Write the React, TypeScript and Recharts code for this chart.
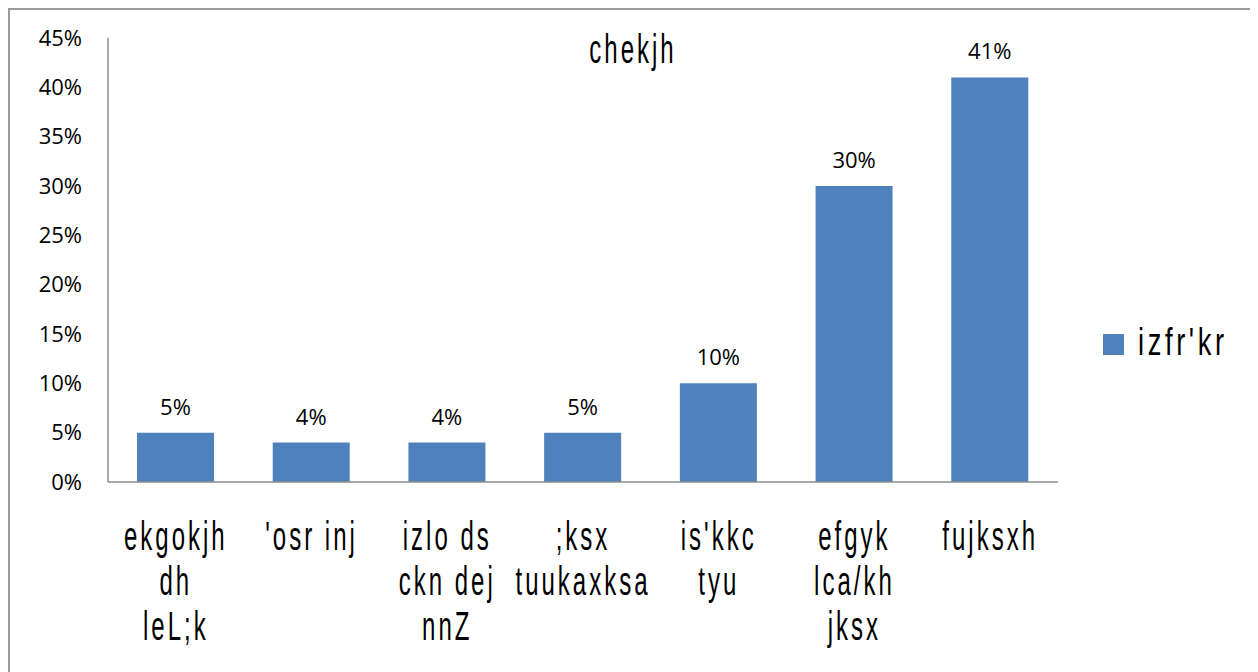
import React from "react";
import { BarChart, Bar, XAxis, YAxis, LabelList, Legend } from "recharts";

const categories = [
  "ekgokjh dh leL;k",
  "'osr inj",
  "izlo ds ckn dej nnZ",
  ";ksx tuukaxksa",
  "is'kkc tyu",
  "efgyk lca/kh jksx",
  "fujksxh",
];
const categoryLines = [
  ["ekgokjh", "dh", "leL;k"],
  ["'osr inj"],
  ["izlo ds", "ckn dej", "nnZ"],
  [";ksx", "tuukaxksa"],
  ["is'kkc", "tyu"],
  ["efgyk", "lca/kh", "jksx"],
  ["fujksxh"],
];
const values = [5, 4, 4, 5, 10, 30, 41];
const yTicks = [0, 5, 10, 15, 20, 25, 30, 35, 40, 45];
const seriesName = "izfr'kr";
const title = "chekjh";

const data = categories.map((c, i) => ({ name: c, value: values[i] }));

const NARROW = "'Liberation Sans', Arial, sans-serif";
const NUMFONT = "'Open Sans', sans-serif";
const BAR = "#4F81BD";
const AXIS = "#8c8c8c";

function XTick(props: any) {
  const { x, y, payload } = props;
  const lines = categoryLines[payload.index] || [String(payload.value)];
  return (
    <g transform={`translate(${x},${y})`}>
      {lines.map((l: string, i: number) => (
        <text
          key={i}
          transform={`translate(0,${68 + 45 * i}) scale(0.6,1)`}
          textAnchor="middle"
          fontFamily={NARROW}
          fontSize={40}
          letterSpacing={5}
          fill="#000"
        >
          {l}
        </text>
      ))}
    </g>
  );
}

function LegendContent() {
  return (
    <svg width={150} height={60} style={{ display: "block", overflow: "visible" }}>
      <rect x={0} y={14} width={21} height={21} fill={BAR} />
      <text
        transform="translate(35,35) scale(0.72,1)"
        fontFamily={NARROW}
        fontSize={38}
        letterSpacing={5}
        fill="#000"
      >
        {seriesName}
      </text>
    </svg>
  );
}

export default function App() {
  return (
    <div
      style={{
        position: "relative",
        width: 1246,
        height: 700,
        border: "2px solid #9a9a9a",
        background: "#fff",
      }}
    >
      <BarChart
        width={1246}
        height={660}
        data={data}
        margin={{ top: 28, right: 198, bottom: 8, left: 0 }}
      >
        <XAxis
          dataKey="name"
          interval={0}
          tickLine={false}
          tickSize={0}
          tickMargin={0}
          height={180}
          axisLine={{ stroke: AXIS, strokeWidth: 1.5 }}
          tick={<XTick />}
        />
        <YAxis
          width={98}
          domain={[0, 45]}
          ticks={yTicks}
          interval={0}
          tickLine={false}
          tickSize={0}
          tickMargin={26}
          axisLine={{ stroke: AXIS, strokeWidth: 1.5 }}
          tickFormatter={(v: number) => `${v}%`}
          tick={{ fontFamily: NUMFONT, fontSize: 22, fill: "#000" }}
        />
        <Legend
          layout="horizontal"
          align="center"
          verticalAlign="middle"
          width={150}
          wrapperStyle={{ left: 1093, top: 310, width: 150, height: 60 }}
          content={() => <LegendContent />}
        />
        <Bar dataKey="value" name={seriesName} fill={BAR} barSize={77} isAnimationActive={false}>
          <LabelList
            dataKey="value"
            position="top"
            offset={18}
            formatter={(v: any) => `${v}%`}
            fontFamily={NUMFONT}
            fontSize={22}
            fill="#000"
          />
        </Bar>
      </BarChart>
      <svg
        width={1246}
        height={100}
        style={{ position: "absolute", left: 0, top: 0, pointerEvents: "none" }}
      >
        <text
          transform="translate(623,53) scale(0.6,1)"
          textAnchor="middle"
          fontFamily={NARROW}
          fontSize={40}
          letterSpacing={5}
          fill="#000"
        >
          {title}
        </text>
      </svg>
    </div>
  );
}
